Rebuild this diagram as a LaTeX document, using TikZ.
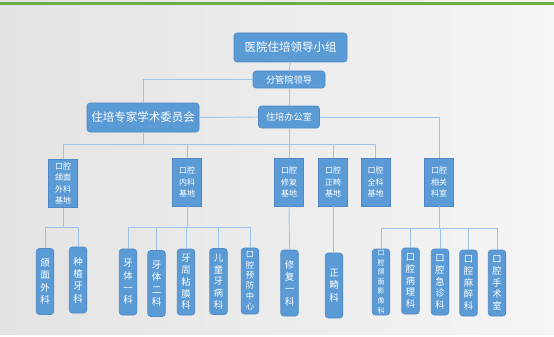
\documentclass[tikz,border=0pt]{standalone}
\usepackage{fontspec}
\setmainfont{Noto Sans CJK SC}
\definecolor{boxfill}{HTML}{5B9BD5}
\definecolor{boxline}{HTML}{4F88C6}
\definecolor{conncol}{HTML}{9DC3E6}
\definecolor{topgreen}{HTML}{6AAE45}
\begin{document}
\begin{tikzpicture}[x=1pt,y=-1pt,
  box/.style={fill=boxfill,draw=boxline,line width=0.6pt,text=white,inner sep=0pt,align=center},
  rbox/.style={box,rounded corners=3pt},
  basebox/.style={box,minimum width=29pt,minimum height=48pt,font=\fontsize{8}{11.5}\selectfont},
  leaf/.style={rbox,minimum width=17.5pt,minimum height=66pt,font=\fontsize{9.5}{12.3}\selectfont},
  leaffive/.style={leaf,font=\fontsize{9.3}{11.8}\selectfont},
  conn/.style={draw=conncol,line width=0.9pt}]
\useasboundingbox (0,0) rectangle (554,337);
\shade[left color=black!11,right color=black!4] (0,0) rectangle (554,335);
\fill[white] (0,335) rectangle (554,337);
\fill[topgreen] (0,2) rectangle (554,5.3);

% top level
\node[rbox,minimum width=113pt,minimum height=29pt,font=\fontsize{11.5}{13}\selectfont] (top) at (290.5,47.5) {医院住培领导小组};
\node[rbox,minimum width=72pt,minimum height=17pt,font=\fontsize{9.2}{11}\selectfont] (fg) at (289,79.5) {分管院领导};
\node[rbox,minimum width=112pt,minimum height=29pt,font=\fontsize{11.5}{13}\selectfont] (zj) at (143,117.5) {住培专家学术委员会};
\node[rbox,minimum width=61pt,minimum height=22pt,font=\fontsize{9.2}{11}\selectfont] (bgs) at (289,117) {住培办公室};

% bases
\node[basebox] (b1) at (63,183.5) {口腔\\颌面\\外科\\基地};
\node[basebox] (b2) at (187,182) {口腔\\内科\\基地};
\node[basebox] (b3) at (289,182) {口腔\\修复\\基地};
\node[basebox] (b4) at (333,182) {口腔\\正畸\\基地};
\node[basebox] (b5) at (375.5,182) {口腔\\全科\\基地};
\node[basebox] (b6) at (439,182) {口腔\\相关\\科室};

% leaves
\node[leaf] (l1) at (45,281.5) {颌\\面\\外\\科};
\node[leaf] (l2) at (78,280) {种\\植\\牙\\科};
\node[leaf] (l3) at (128,282) {牙\\体\\一\\科};
\node[leaf] (l4) at (156.5,283.5) {牙\\体\\二\\科};
\node[leaffive] (l5) at (186,282) {牙\\周\\粘\\膜\\科};
\node[leaffive] (l6) at (218.5,281.5) {儿\\童\\牙\\病\\科};
\node[leaf,font=\fontsize{8.3}{10.4}\selectfont] (l7) at (250,281) {口\\腔\\预\\防\\中\\心};
\node[leaf] (l8) at (289.5,283) {修\\复\\一\\科};
\node[leaf,minimum height=65pt] (l9) at (334,285.5) {正\\畸\\科};
\node[leaf,font=\fontsize{7}{9.6}\selectfont] (l10) at (381,282) {口\\腔\\颌\\面\\影\\像\\科};
\node[leaffive] (l11) at (410.5,281) {口\\腔\\病\\理\\科};
\node[leaffive] (l12) at (440,282) {口\\腔\\急\\诊\\科};
\node[leaffive] (l13) at (468.5,283) {口\\腔\\麻\\醉\\科};
\node[leaffive] (l14) at (497,283) {口\\腔\\手\\术\\室};

% connectors
\path[conn] (top.south) -- (fg.north);
\path[conn] (fg.south) -- (bgs.north);
\path[conn] (fg.west) -| (zj.north);
\path[conn] (zj.east) -- (bgs.west);
\path[conn] (bgs.east) -| (b6.north);
\path[conn] (bgs.south) -- (b3.north);
\coordinate (hb) at (0,144);
\path[conn] (b1.north) -- (b1.north |- hb) -- (b5.north |- hb) -- (b5.north);
\path[conn] (b2.north) -- (b2.north |- hb);
\path[conn] (b4.north) -- (b4.north |- hb);
\path[conn] (zj.south) -- (zj.south |- hb);
% group 1
\coordinate (g1) at (0,227);
\path[conn] (b1.south) -- (b1.south |- g1);
\path[conn] (l1.north) -- (l1.north |- g1) -- (l2.north |- g1) -- (l2.north);
% group 2
\path[conn] (b2.south) -- (b2.south |- g1);
\path[conn] (l3.north) -- (l3.north |- g1) -- (l7.north |- g1) -- (l7.north);
\path[conn] (l4.north) -- (l4.north |- g1);
\path[conn] (l5.north) -- (l5.north |- g1);
\path[conn] (l6.north) -- (l6.north |- g1);
% single
\path[conn] (b3.south) -- (l8.north);
\path[conn] (b4.south) -- (b4.south |- l9.north);
% group 3
\coordinate (g3) at (0,228);
\path[conn] (b6.south) -- (b6.south |- g3);
\path[conn] (l10.north) -- (l10.north |- g3) -- (l14.north |- g3) -- (l14.north);
\path[conn] (l11.north) -- (l11.north |- g3);
\path[conn] (l12.north) -- (l12.north |- g3);
\path[conn] (l13.north) -- (l13.north |- g3);
\end{tikzpicture}
\end{document}
